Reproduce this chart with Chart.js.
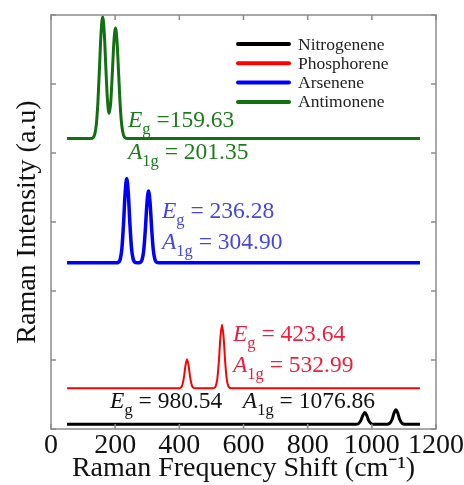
<!DOCTYPE html>
<html>
<head>
<meta charset="utf-8">
<title>Raman spectra</title>
<script src="https://cdn.jsdelivr.net/npm/chart.js@4.4.1/dist/chart.umd.min.js"></script>
<style>
    html, body { margin: 0; padding: 0; background: #fff; }
    #wrap { width: 464px; height: 485px; }
</style>
</head>
<body>
<div id="wrap"><canvas id="ramanChart" width="464" height="485"></canvas></div>
<script>
// ================= DATA =================
const seriesNames = ["Nitrogenene", "Phosphorene", "Arsenene", "Antimonene"];

const nitroX = [50, 940, 950, 958, 966, 972, 978, 984, 990, 998, 1006, 1047, 1055, 1063, 1069, 1075, 1081, 1087, 1095, 1103, 1150];
const nitroY = [0.07, 0.07, 0.07, 0.077, 0.125, 0.198, 0.24, 0.198, 0.125, 0.077, 0.07, 0.07, 0.079, 0.138, 0.229, 0.28, 0.229, 0.138, 0.079, 0.07, 0.07];

const phosX = [50, 400, 404, 409, 414, 419, 424, 429, 434, 439, 444, 450, 505, 508, 513, 518, 523, 528, 533, 538, 543, 548, 553, 558, 565, 1150];
const phosY = [0.59, 0.59, 0.597, 0.632, 0.74, 0.915, 1.01, 0.915, 0.74, 0.632, 0.597, 0.59, 0.59, 0.594, 0.617, 0.714, 0.967, 1.326, 1.51, 1.326, 0.967, 0.714, 0.617, 0.594, 0.59, 0.59];

const arsX = [50, 206, 211, 216, 221, 226, 231, 236, 241, 246, 251, 256, 261, 268, 274, 279, 284, 289, 294, 299, 304, 309, 314, 319, 324, 329, 336, 1150];
const arsY = [2.41, 2.41, 2.419, 2.464, 2.62, 2.97, 3.41, 3.63, 3.41, 2.97, 2.62, 2.464, 2.419, 2.41, 2.41, 2.418, 2.456, 2.589, 2.886, 3.266, 3.45, 3.266, 2.886, 2.589, 2.456, 2.418, 2.41, 2.41];

const antiX = [50, 125, 131, 136, 141, 146, 151, 156, 161, 166, 171, 176, 181, 186, 191, 196, 201, 206, 211, 216, 221, 226, 231, 238, 1150];
const antiY = [4.21, 4.21, 4.22, 4.265, 4.40, 4.715, 5.22, 5.74, 5.97, 5.745, 5.233, 4.765, 4.576, 4.724, 5.142, 5.606, 5.81, 5.604, 5.13, 4.669, 4.384, 4.26, 4.221, 4.21, 4.21];

const xTicks = [0, 200, 400, 600, 800, 1000, 1200];

// peak annotations: [mode, subscript, text]
const peakLabels = [
    ["E", "g", " =159.63"], ["A", "1g", " = 201.35"],
    ["E", "g", " = 236.28"], ["A", "1g", " = 304.90"],
    ["E", "g", " = 423.64"], ["A", "1g", " = 532.99"],
    ["E", "g", " = 980.54"], ["A", "1g", " = 1076.86"]
];

// ================= STYLE =================
const lineColors = ["#000000", "#ff0000", "#0000ff", "#127012"];
const lineWidths = [3, 2, 3.5, 3];
const labelColors = ["#1c7c1c", "#1c7c1c", "#4646e0", "#4646e0", "#f01e3c", "#f01e3c", "#111111", "#111111"];
// where each annotation sits, in data units (x, y of baseline)
const labelAnchors = [
    [240, 4.38], [240, 3.92],
    [346, 3.06], [346, 2.61],
    [567, 1.27], [567, 0.83],
    [184, 0.30], [598, 0.30]
];

const SERIF = "'Liberation Serif', 'Times New Roman', serif";
const AXIS_GREY = "#8c8c8c";

function toPoints(xs, ys) {
    return xs.map((x, i) => ({ x: x, y: ys[i] }));
}

// ================= FRAME + TICKS =================
const framePlugin = {
    id: "frame",
    afterDatasetsDraw(chart) {
        const ctx = chart.ctx;
        const a = chart.chartArea;
        const xs = chart.scales.x;
        const ys = chart.scales.y;
        ctx.save();
        ctx.strokeStyle = AXIS_GREY;
        ctx.lineWidth = 1.5;
        ctx.strokeRect(a.left, a.top, a.right - a.left, a.bottom - a.top);

        // inward tick marks on all four sides
        ctx.beginPath();
        xTicks.forEach(v => {
            const px = xs.getPixelForValue(v);
            ctx.moveTo(px, a.bottom); ctx.lineTo(px, a.bottom - 5);
            ctx.moveTo(px, a.top); ctx.lineTo(px, a.top + 5);
        });
        ys.ticks.forEach(t => {
            const py = ys.getPixelForValue(t.value);
            ctx.moveTo(a.left, py); ctx.lineTo(a.left + 5, py);
            ctx.moveTo(a.right, py); ctx.lineTo(a.right - 5, py);
        });
        ctx.stroke();
        ctx.restore();
    }
};

// ================= LEGEND =================
const legendPlugin = {
    id: "innerLegend",
    afterDatasetsDraw(chart) {
        const ctx = chart.ctx;
        ctx.save();
        ctx.font = "17.5px " + SERIF;
        ctx.textBaseline = "middle";
        chart.data.datasets.forEach((ds, i) => {
            const y = 44 + i * 19.3;
            ctx.strokeStyle = ds.borderColor;
            ctx.lineWidth = 4;
            ctx.lineCap = "round";
            ctx.beginPath();
            ctx.moveTo(238, y);
            ctx.lineTo(289, y);
            ctx.stroke();
            ctx.fillStyle = "#222";
            ctx.fillText(ds.label, 298, y + 1);
        });
        ctx.restore();
    }
};

// ================= PEAK LABELS =================
const peakLabelPlugin = {
    id: "peakLabels",
    afterDatasetsDraw(chart) {
        const ctx = chart.ctx;
        const xs = chart.scales.x;
        const ys = chart.scales.y;
        ctx.save();
        ctx.textBaseline = "alphabetic";
        peakLabels.forEach((lab, i) => {
            let px = xs.getPixelForValue(labelAnchors[i][0]);
            const py = ys.getPixelForValue(labelAnchors[i][1]);
            ctx.fillStyle = labelColors[i];

            ctx.font = "italic 23.5px " + SERIF;
            ctx.fillText(lab[0], px, py);
            px += ctx.measureText(lab[0]).width;

            ctx.font = "16.5px " + SERIF;
            ctx.fillText(lab[1], px, py + 7);
            px += ctx.measureText(lab[1]).width;

            ctx.font = "23.5px " + SERIF;
            ctx.fillText(lab[2], px, py);
        });
        ctx.restore();
    }
};

// ================= CHART =================
window.onload = function () {
    const datasets = [
        toPoints(nitroX, nitroY),
        toPoints(phosX, phosY),
        toPoints(arsX, arsY),
        toPoints(antiX, antiY)
    ].map((pts, i) => ({
        label: seriesNames[i],
        data: pts,
        borderColor: lineColors[i],
        borderWidth: lineWidths[i],
        pointRadius: 0,
        fill: false,
        cubicInterpolationMode: "monotone"
    }));

    new Chart(document.getElementById("ramanChart"), {
        type: "line",
        data: { datasets: datasets },
        options: {
            responsive: false,
            animation: false,
            layout: { padding: { top: 15, right: 28, left: 0, bottom: 0 } },
            plugins: {
                legend: { display: false },
                tooltip: { enabled: false }
            },
            scales: {
                x: {
                    type: "linear",
                    min: 0,
                    max: 1200,
                    afterBuildTicks: s => { s.ticks = xTicks.map(v => ({ value: v })); },
                    afterFit: s => { s.height = 56; },
                    grid: { display: false, drawTicks: false },
                    border: { display: false },
                    ticks: {
                        color: "#111",
                        padding: 0,
                        maxRotation: 0,
                        callback: v => String(v),
                        font: { family: SERIF, size: 28 }
                    },
                    title: {
                        display: true,
                        text: "Raman Frequency Shift (cm\u207B\u00B9)",
                        color: "#111",
                        padding: { top: 0, bottom: 0 },
                        font: { family: SERIF, size: 28 }
                    }
                },
                y: {
                    min: 0,
                    max: 6,
                    ticks: { display: false, stepSize: 1 },
                    afterFit: s => { s.width = 51; },
                    grid: { display: false, drawTicks: false },
                    border: { display: false },
                    title: {
                        display: true,
                        text: "Raman Intensity (a.u)",
                        color: "#111",
                        padding: { top: 11, bottom: 0 },
                        font: { family: SERIF, size: 28 }
                    }
                }
            }
        },
        plugins: [framePlugin, legendPlugin, peakLabelPlugin]
    });
};
</script>
</body>
</html>
